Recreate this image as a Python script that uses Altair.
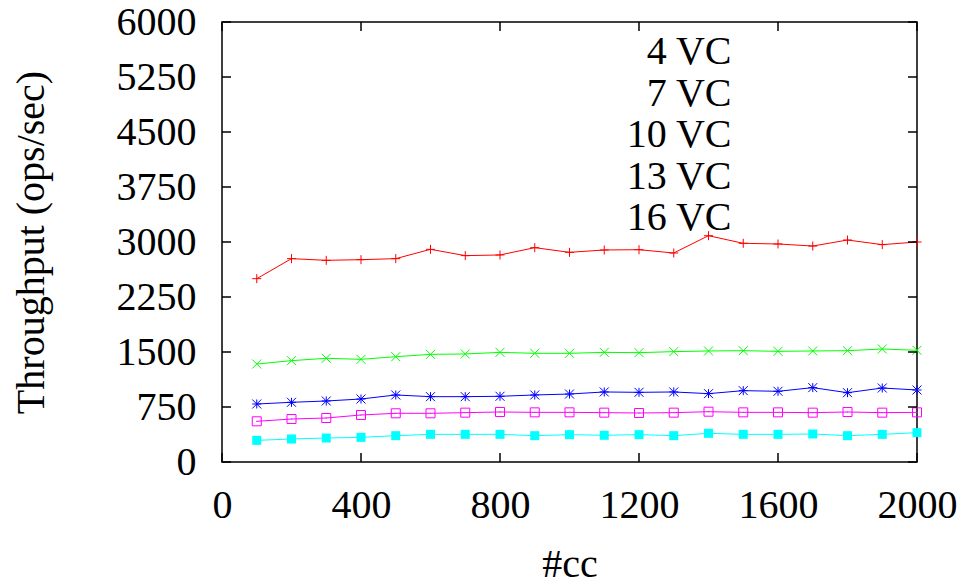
import altair as alt
import pandas as pd

# number of concurrent clients
cc = [100, 200, 300, 400, 500, 600, 700, 800, 900, 1000,
      1100, 1200, 1300, 1400, 1500, 1600, 1700, 1800, 1900, 2000]

# throughput (ops/sec) per configuration
vc4 = [2500, 2773, 2750, 2759, 2773, 2900, 2814, 2823, 2923, 2859,
       2891, 2895, 2850, 3086, 2982, 2973, 2945, 3027, 2964, 3000]
vc7 = [1336, 1382, 1414, 1400, 1436, 1468, 1473, 1495, 1482, 1482,
       1495, 1491, 1505, 1514, 1518, 1509, 1514, 1518, 1541, 1523]
vc10 = [791, 814, 832, 859, 914, 891, 891, 896, 914, 927,
        955, 950, 955, 932, 973, 964, 1014, 945, 1009, 982]
vc13 = [555, 586, 600, 641, 664, 664, 673, 682, 677, 677,
        673, 668, 673, 686, 677, 677, 673, 682, 673, 677]
vc16 = [295, 314, 327, 336, 359, 377, 377, 377, 359, 373,
        364, 373, 359, 391, 377, 377, 382, 359, 377, 400]

series_names = ["4 VC", "7 VC", "10 VC", "13 VC", "16 VC"]
series_values = [vc4, vc7, vc10, vc13, vc16]
colors = ["#ff0000", "#00ff00", "#0000ff", "#ff00ff", "#00ffff"]

x_ticks = [0, 400, 800, 1200, 1600, 2000]
y_ticks = [0, 750, 1500, 2250, 3000, 3750, 4500, 5250, 6000]

# point markers (unit-square SVG paths)
markers = [
    "M-1,0H1M0,-1V1",
    "M-1,-1L1,1M-1,1L1,-1",
    "M-1,0H1M0,-1V1M-1,-1L1,1M-1,1L1,-1",
    "M-1,-1H1V1H-1ZM-0.12,0H0.12",
    "M-1,-1H1V1H-1Z",
]
marker_filled = [False, False, False, False, True]

rows = []
for name, vals in zip(series_names, series_values):
    for c, v in zip(cc, vals):
        rows.append({"cc": c, "value": v, "series": name})
df = pd.DataFrame(rows)
xt_df = pd.DataFrame({"cc": x_ticks})
yt_df = pd.DataFrame({"value": y_ticks})

FONT = "Liberation Serif"
FS = 40
W, H = 695, 440
TICK = 9
KEY_LEN = 109

xs = alt.Scale(domain=[0, 2000], nice=False, zero=False)
ys = alt.Scale(domain=[0, 6000], nice=False)
cscale = alt.Scale(domain=series_names, range=colors)

axis_style = dict(ticks=False, domain=False, grid=False, format="d",
                  labelFont=FONT, labelFontSize=FS, labelColor="black",
                  labelFlush=False, labelOverlap=False,
                  titleFont=FONT, titleFontSize=FS, titleFontWeight="normal",
                  titleColor="black")

bottom_axis = alt.Axis(orient="bottom", values=x_ticks, labelPadding=55,
                       labelBaseline="alphabetic", title="#cc",
                       titleBaseline="alphabetic", titleY=114, **axis_style)
left_axis = alt.Axis(orient="left", values=y_ticks, labelPadding=26,
                     labelBaseline="middle", labelAlign="right",
                     title="Throughput (ops/sec)", titleAngle=270,
                     titleBaseline="alphabetic", titleAlign="center",
                     titleX=-179, titleY=220, **axis_style)

# key in the upper right: label, then a line sample of the series colour
key = alt.Legend(title=None, orient="none", legendX=400, legendY=10,
                 direction="vertical", labelFont=FONT, labelFontSize=FS,
                 labelColor="black", labelAlign="right",
                 labelOffset={"expr": "-135.5"},
                 symbolType="stroke", symbolSize=KEY_LEN * KEY_LEN,
                 symbolStrokeWidth=1, symbolOffset=135, clipHeight=40,
                 rowPadding=1.5, padding=0, labelLimit=0)

base = alt.Chart(df)

lines = base.mark_line(strokeWidth=1).encode(
    x=alt.X("cc:Q", scale=xs, axis=bottom_axis),
    y=alt.Y("value:Q", scale=ys, axis=left_axis),
    color=alt.Color("series:N", scale=cscale, legend=key),
)

layers = [lines]
for name, path, filled in zip(series_names, markers, marker_filled):
    layers.append(
        base.transform_filter(alt.datum.series == name)
        .mark_point(shape=path, filled=filled, size=81, opacity=1, strokeWidth=1)
        .encode(
            x=alt.X("cc:Q", scale=xs),
            y=alt.Y("value:Q", scale=ys),
            color=alt.Color("series:N", scale=cscale, legend=None),
        )
    )

# inward tick marks on all four sides of the frame
tick_mark = dict(color="black", strokeWidth=1.5)
layers += [
    alt.Chart(xt_df).mark_rule(**tick_mark).encode(
        x=alt.X("cc:Q", scale=xs), y=alt.value(H), y2=alt.value(H - TICK)),
    alt.Chart(xt_df).mark_rule(**tick_mark).encode(
        x=alt.X("cc:Q", scale=xs), y=alt.value(0), y2=alt.value(TICK)),
    alt.Chart(yt_df).mark_rule(**tick_mark).encode(
        y=alt.Y("value:Q", scale=ys), x=alt.value(0), x2=alt.value(TICK)),
    alt.Chart(yt_df).mark_rule(**tick_mark).encode(
        y=alt.Y("value:Q", scale=ys), x=alt.value(W), x2=alt.value(W - TICK)),
]

chart = (
    alt.layer(*layers)
    .properties(
        width=W, height=H,
        autosize=alt.AutoSizeParams(type="none"),
        padding={"left": 222, "top": 22, "right": 51, "bottom": 122},
        background="white",
    )
    .configure_view(stroke="black", strokeWidth=1.5)
)

chart.save("out.html", embed_options={"renderer": "svg", "actions": False})
